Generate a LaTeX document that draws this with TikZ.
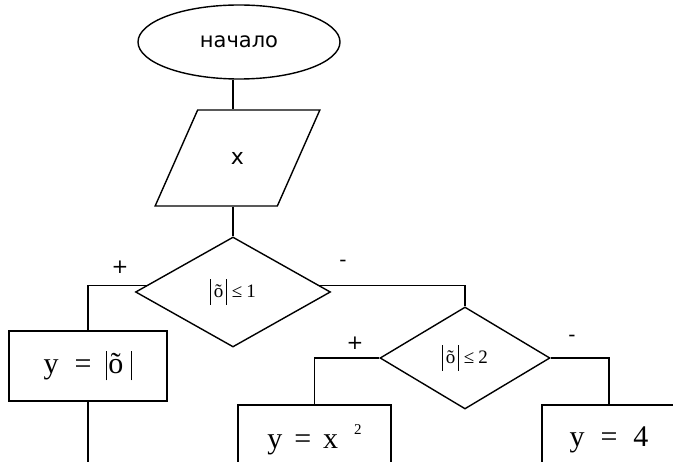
\documentclass[tikz,border=0pt]{standalone}
\usepackage{fontspec}
\setmainfont{Liberation Serif}
\newfontfamily\sansf{DejaVu Sans}
\usetikzlibrary{shapes.geometric,calc}
\newcommand\tbarsmall{\rule[-7pt]{0.7pt}{26pt}}
\newcommand\tbarbig{\rule[-7pt]{0.9pt}{29pt}}
\begin{document}
\begin{tikzpicture}[x=1pt,y=-1pt, line width=1.4pt,
  box/.style={draw, rectangle, inner sep=0, font=\fontsize{30}{30}\selectfont},
  cond/.style={draw, diamond, inner sep=0, font=\fontsize{19}{19}\selectfont},
  lbl/.style={font=\sansf\fontsize{20}{20}\selectfont, inner sep=0}]
\useasboundingbox (0,0) rectangle (673,462);
\clip (0,0) rectangle (673,462);
\fill[white] (0,0) rectangle (673,462);

\node[draw, ellipse, minimum width=202pt, minimum height=74pt, inner sep=0,
      font=\sansf\fontsize{21}{21}\selectfont] (e) at (239,42) {начало};
\node[draw, trapezium, trapezium left angle=60, trapezium right angle=120,
      trapezium stretches=true, minimum width=165pt, minimum height=96pt,
      inner sep=0, font=\sansf\fontsize{22}{22}\selectfont] (p) at (237.5,158) {x};
\node[cond, minimum width=195pt, minimum height=110pt] (d1) at (233,292)
      {\tbarsmall\hspace{3pt}õ\hspace{3pt}\tbarsmall\hspace{5pt}≤\hspace{4pt}1};
\node[cond, minimum width=170pt, minimum height=102pt] (d2) at (465,358)
      {\tbarsmall\hspace{3pt}õ\hspace{3pt}\tbarsmall\hspace{5pt}≤\hspace{4pt}2};

\node[box, minimum width=158pt, minimum height=70pt] (b1) at (88,366)
      {y\hspace{16pt}=\hspace{14pt}\tbarbig\hspace{2pt}õ\hspace{8pt}\tbarbig};
\node[box, minimum width=153pt, minimum height=70pt] (b2) at (314.5,440)
      {y\hspace{12pt}=\hspace{12pt}x\hspace{16pt}\raisebox{14pt}{\fontsize{15}{15}\selectfont 2}};
\node[box, minimum width=134pt, minimum height=70pt] (b3) at (609,440)
      {y\hspace{16pt}=\hspace{16pt}4};

\coordinate (d1l) at ($(d1.west)!0.12!(d1.north)$);
\coordinate (d1r) at ($(d1.east)!0.12!(d1.north)$);
\coordinate (end) at (88,475);

\draw (e.south -| d1.north) -- (p.north -| d1.north);
\draw (p.south -| d1.north) -- (d1.north);
\draw (d1l) -| (b1.north);
\draw (d1r) -| (d2.north);
\draw (d2.west) -| (b2.north);
\draw (d2.east) -| (b3.north);
\draw (b1.south) -- (end);

\node[lbl] (l1) at (120,267) {+};
\node[lbl] (l2) at (343,263) {-};
\node[lbl] (l3) at (355,343) {+};
\node[lbl] (l4) at (572,338) {-};
\end{tikzpicture}
\end{document}
